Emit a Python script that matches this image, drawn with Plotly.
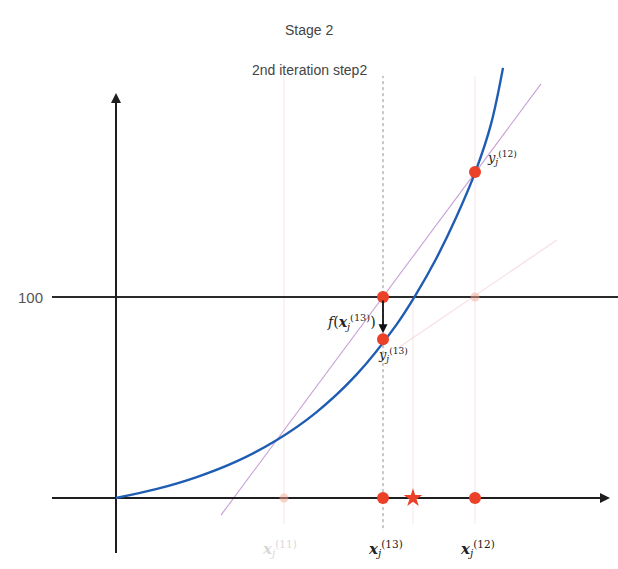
import plotly.graph_objects as go

# ---- data ----
curve_x = [0.0, 0.4, 0.8, 1.2, 1.6, 2.0, 2.4, 2.8, 3.0, 3.2, 3.4, 3.6, 3.75, 3.87]
curve_y = [0.0, 4.4, 10.3, 18.1, 28.6, 42.5, 61.1, 85.9, 101.3, 118.9, 139.4, 163.1, 186.0, 214.0]

secant_x = [1.05, 4.25]
secant_y = [-8.5, 206.0]

prev_line_x = [2.79, 4.41]
prev_line_y = [73.6, 128.4]

target = 100
x11, x13, x12, root = 1.68, 2.67, 3.59, 2.97
y11, y13, y12 = 33.8, 79.0, 162.2

title_text = "Stage 2"
subtitle_text = "2nd iteration step2"

fig = go.Figure()

# faint vertical guides
for xv, y0, col, dash in [(x11, -13, "rgba(238,210,210,0.55)", "solid"),
                          (root, -13, "rgba(238,210,210,0.55)", "solid"),
                          (x12, -13, "rgba(238,210,210,0.55)", "solid"),
                          (x13, -15, "#8f8f8f", "dot")]:
    top = 210 if xv != root else 100
    fig.add_trace(go.Scatter(x=[xv, xv], y=[y0, top], mode="lines",
                             line=dict(color=col, width=1, dash=dash),
                             hoverinfo="skip", showlegend=False))

# faint previous line
fig.add_trace(go.Scatter(x=prev_line_x, y=prev_line_y, mode="lines",
                         line=dict(color="rgba(240,195,200,0.55)", width=1.2),
                         showlegend=False))

# secant line
fig.add_trace(go.Scatter(x=secant_x, y=secant_y, mode="lines",
                         line=dict(color="#c7a0d6", width=1.1),
                         showlegend=False))

# target horizontal line
fig.add_trace(go.Scatter(x=[-0.64, 5.02], y=[target, target], mode="lines",
                         line=dict(color="#2a2a2a", width=2), showlegend=False))

# x axis line
fig.add_trace(go.Scatter(x=[-0.64, 4.88], y=[0, 0], mode="lines",
                         line=dict(color="#1e1e1e", width=2), showlegend=False))
# y axis line
fig.add_trace(go.Scatter(x=[0, 0], y=[-27.4, 198], mode="lines",
                         line=dict(color="#1e1e1e", width=2), showlegend=False))

# curve
fig.add_trace(go.Scatter(x=curve_x, y=curve_y, mode="lines", line_shape="spline",
                         line=dict(color="#1f5db3", width=2.4), showlegend=False))

# faint points
fig.add_trace(go.Scatter(x=[x11, x12], y=[0, target], mode="markers",
                         marker=dict(color="rgba(245,170,150,0.5)", size=9),
                         showlegend=False))

# red points
red = "#ea4128"
fig.add_trace(go.Scatter(x=[x13, x13, x12, x13, x12], y=[target, y13, y12, 0, 0],
                         mode="markers", marker=dict(color=red, size=12),
                         showlegend=False))
fig.add_trace(go.Scatter(x=[root], y=[0], mode="markers",
                         marker=dict(color=red, size=14, symbol="star"),
                         showlegend=False))

# arrows for axes and f(x)
fig.add_annotation(x=4.94, y=0, ax=4.80, ay=0, axref="x", ayref="y",
                   showarrow=True, arrowhead=2, arrowsize=1, arrowwidth=2,
                   arrowcolor="#1e1e1e", text="")
fig.add_annotation(x=0, y=201.5, ax=0, ay=190, axref="x", ayref="y",
                   showarrow=True, arrowhead=2, arrowsize=1, arrowwidth=2,
                   arrowcolor="#1e1e1e", text="")
fig.add_annotation(x=x13, y=y13 + 3, ax=x13, ay=target - 1, axref="x", ayref="y",
                   showarrow=True, arrowhead=2, arrowsize=1, arrowwidth=1.8,
                   arrowcolor="#111", text="")

serif = "DejaVu Serif"
def lab(x, y, text, color="#222", size=15, xanchor="center"):
    fig.add_annotation(x=x, y=y, text=text, showarrow=False,
                       font=dict(family=serif, size=size, color=color),
                       xanchor=xanchor, yanchor="middle")

lab(x13 - 0.05, 87.5, "<i>f</i>(<b><i>x</i></b><sub><i>j</i></sub><sup>(13)</sup>)",
    xanchor="right", size=14)
lab(x13 + 0.1, 71, "<i>y</i><sub><i>j</i></sub><sup>(13)</sup>", size=13)
lab(x12 + 0.27, 169, "<i>y</i><sub><i>j</i></sub><sup>(12)</sup>", size=13)
lab(x13 + 0.02, -25, "<b><i>x</i></b><sub><i>j</i></sub><sup>(13)</sup>", size=15)
lab(x12 + 0.02, -25, "<b><i>x</i></b><sub><i>j</i></sub><sup>(12)</sup>", size=15)
lab(x11 - 0.05, -25, "<b><i>x</i></b><sub><i>j</i></sub><sup>(11)</sup>",
    color="rgba(205,205,205,0.8)", size=15)

fig.add_annotation(x=-0.86, y=target, text="100", showarrow=False,
                   font=dict(family="Liberation Sans", size=15, color="#555"),
                   xanchor="center", yanchor="middle")

fig.add_annotation(xref="paper", yref="paper", x=0.5, y=1 - 20 / 569,
                   text=title_text, showarrow=False,
                   font=dict(family="Liberation Sans", size=14, color="#444"))
fig.add_annotation(xref="paper", yref="paper", x=0.5, y=1 - 60 / 569,
                   text=subtitle_text, showarrow=False,
                   font=dict(family="Liberation Sans", size=14, color="#444"))

fig.update_layout(
    width=618, height=569,
    margin=dict(l=0, r=0, t=0, b=0),
    paper_bgcolor="white", plot_bgcolor="white",
    xaxis=dict(range=[-1.16, 5.02], visible=False),
    yaxis=dict(range=[-35.32, 247.76], visible=False),
    showlegend=False,
)

fig.write_html("out.html")
